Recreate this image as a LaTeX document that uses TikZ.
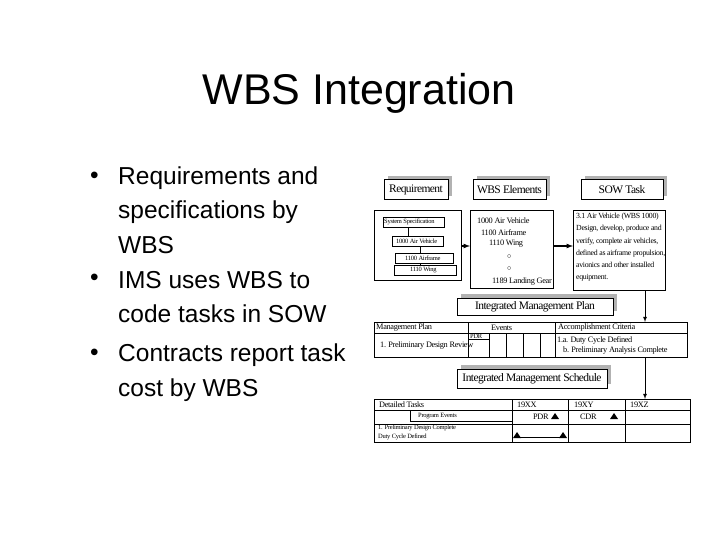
\documentclass[tikz,border=0pt]{standalone}
\usepackage{fontspec}
\setmainfont{Liberation Sans}
\newfontfamily\dserif{Liberation Serif}
\begin{document}
\begin{tikzpicture}[x=1pt,y=-1pt,
  sh/.style={fill=gray!60},
  tbl/.style={draw,line width=0.9pt},
  hd/.style={font=\dserif\fontsize{11.5}{12}\selectfont\addfontfeature{LetterSpace=-5}},
  tx/.style={font=\dserif\fontsize{8.3}{9}\selectfont\addfontfeature{LetterSpace=-4},inner sep=0pt,anchor=west},
  txs/.style={font=\dserif\fontsize{6.5}{7}\selectfont\addfontfeature{LetterSpace=-4},inner sep=0pt,anchor=west},
  bt/.style={font=\fontsize{24.5}{28}\selectfont,inner sep=0pt,anchor=west},
  arr/.style={line width=1.2pt,-latex}]
\useasboundingbox (0,0) rectangle (720,540);
\node[font=\fontsize{43}{48}\selectfont] (title) at (359,93) {WBS Integration};
\foreach \y/\t/\b in {178/Requirements and/1,212/specifications by/0,245/WBS/0,280/IMS uses WBS to/1,314/code tasks in SOW/0,355/Contracts report task/1,390/cost by WBS/0}{
  \node[bt] at (118,\y) {\t};
  \ifnum\b=1 \node[bt] at (90,\y) {•};\fi
}
\foreach \n/\xa/\xb/\t in {req/384/448/Requirement,wbs/473/546/WBS Elements,sow/581/663/SOW Task}{
  \fill[sh] (\xa+4,176) rectangle (\xb+4,196);
  \draw[line width=1pt,fill=white] (\xa,180) rectangle (\xb,200);
  \node[hd] (\n) at ({(\xa+\xb)/2},190) {\t};
}
% requirement box
\draw[tbl] (374,210) rectangle (461,280);
\coordinate (lbr) at (461,246);
\draw[line width=0.6pt] (408,227) -- (408,236) (420,246) -- (420,266);
\draw[line width=0.8pt,fill=white] (383,217) rectangle (444,227);
\node[txs] (ss) at (384,222) {System Specification};
\draw[line width=0.8pt,fill=white] (392,236) rectangle (443,246);
\node[txs] (av) at (396,241) {1000 Air Vehicle};
\draw[line width=0.8pt,fill=white] (395,253) rectangle (453,263);
\node[txs] (af) at (405,258) {1100 Airframe};
\draw[line width=0.8pt,fill=white] (394,265) rectangle (456,275);
\node[txs] (wg) at (410,270) {1110 Wing};
% WBS elements
\draw[tbl] (470,210) rectangle (553,288);
\coordinate (mbl) at (470,246);\coordinate (mbr) at (553,246);
\node[tx] (w1) at (477,221) {1000 Air Vehicle};
\node[tx] (w2) at (481,233) {1100 Airframe};
\node[tx] (w3) at (489,244) {1110 Wing};
\node[tx] (w4) at (507,257) {$\circ$};
\node[tx] (w5) at (507,269) {$\circ$};
\node[tx] (w6) at (492,282) {1189 Landing Gear};
% SOW box
\draw[tbl] (573,210) rectangle (665,290);
\coordinate (sbl) at (573,246);\coordinate (sbb) at (645,290);
\node[tx,align=left,anchor=north west,font=\dserif\fontsize{7.8}{12.2}\selectfont\addfontfeature{LetterSpace=-4}] (sowt) at (576,213) {3.1 Air Vehicle (WBS 1000)\\Design, develop, produce and\\verify, complete air vehicles,\\defined as airframe propulsion,\\avionics and other installed\\equipment.};
\draw[arr] (lbr) -- (mbl);
\draw[arr] (mbr) -- (sbl);
% IMP
\fill[sh] (461,294) rectangle (617,311);
\draw[line width=1pt,fill=white] (457,298) rectangle (613,315);
\node[hd] (imp) at (535,306.5) {Integrated Management Plan};
\draw[tbl] (374,322) rectangle (687,357);
\coordinate (impt) at (645,322);\coordinate (impb) at (645,357);
\draw[line width=0.8pt] (374,333) -- (687,333) (468,322) -- (468,357) (555,322) -- (555,357);
\foreach \x in {489,506,523,540} \draw[line width=0.9pt] (\x,333) -- (\x,357);
\draw[line width=0.8pt] (468,339) -- (489,339);
\node[txs] at (470,336) {PDR};
\node[tx] at (376,327.5) {Management Plan};
\node[tx] at (491,327.5) {Events};
\node[tx] at (558,327.5) {Accomplishment Criteria};
\node[tx] at (380,346) {1. Preliminary Design Review};
\node[tx] at (557,340) {1.a. Duty Cycle Defined};
\node[tx] at (563,351) {b. Preliminary Analysis Complete};
\draw[line width=0.8pt,-latex] (sbb) -- (impt);
% IMS
\fill[sh] (461,365) rectangle (611,384);
\draw[line width=1pt,fill=white] (457,369) rectangle (607,388);
\node[hd] (ims) at (532,378.5) {Integrated Management Schedule};
\draw[tbl] (374,399) rectangle (690,442);
\coordinate (imst) at (645,399);
\draw[line width=0.8pt] (374,410) -- (690,410) (374,424) -- (690,424);
\draw[line width=0.8pt] (512,399) -- (512,442) (568,399) -- (568,442) (625,399) -- (625,442);
\draw[line width=0.6pt] (410,410) -- (410,421) -- (512,421);
\node[tx] at (379,404.5) {Detailed Tasks};
\node[tx] at (517,405) {19XX};
\node[tx] at (574,405) {19XY};
\node[tx] at (630,405) {19XZ};
\node[txs] at (418,416) {Program Events};
\node[txs] at (378,428) {1. Preliminary Design Complete};
\node[txs] at (378,437) {Duty Cycle Defined};
\node[tx] at (533,417) {PDR};
\node[tx] at (580,417) {CDR};
\fill (551,419) -- (559,419) -- (555,413) -- cycle;
\fill (610,419) -- (618,419) -- (614,413) -- cycle;
\fill (513,438) -- (521,438) -- (517,432) -- cycle;
\fill (559,438) -- (567,438) -- (563,432) -- cycle;
\draw[line width=0.6pt] (517,437) -- (563,437);
\draw[line width=0.8pt,-latex] (impb) -- (imst);
\end{tikzpicture}
\end{document}
